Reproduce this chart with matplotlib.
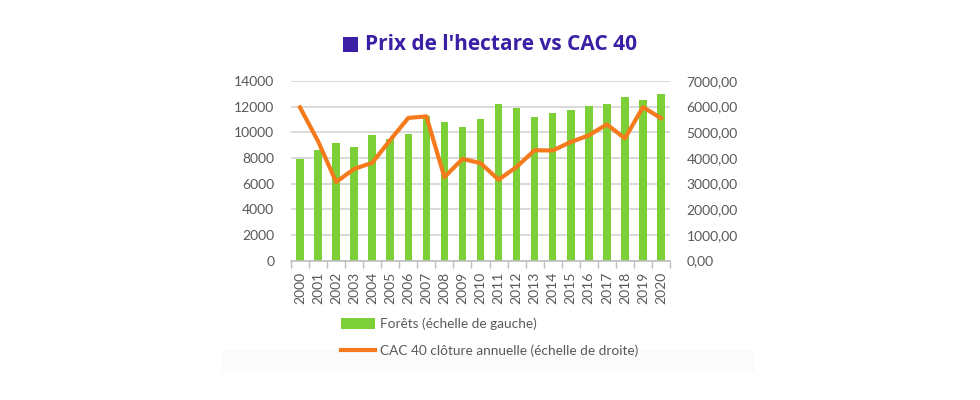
import matplotlib
matplotlib.use("Agg")
import matplotlib.pyplot as plt
from matplotlib.patches import Rectangle, Patch
from matplotlib.lines import Line2D
from matplotlib.ticker import FuncFormatter, FixedLocator
import numpy as np

years = [str(y) for y in range(2000, 2021)]
forets = [7950, 8650, 9200, 8850, 9800, 9500, 9900, 11250, 10780, 10440, 11000,
          12200, 11930, 11200, 11520, 11750, 12060, 12220, 12740, 12500, 13020]
cac40 = [5970, 4650, 3060, 3570, 3810, 4700, 5560, 5620, 3250, 3960, 3800,
         3150, 3650, 4300, 4290, 4620, 4880, 5310, 4760, 5980, 5550]

title = "Prix de l'hectare vs CAC 40"
label_bars = "Forêts (échelle de gauche)"
label_line = "CAC 40 clôture annuelle (échelle de droite)"

GREEN = "#7dcf37"
ORANGE = "#f47a1c"
PURPLE = "#3b1fa5"
TXT = "#595959"
GRID = "#d9d9d9"

plt.rcParams['font.family'] = ['Lato', 'DejaVu Sans']

fig = plt.figure(figsize=(9.8, 4.0), dpi=100)
fig.patch.set_facecolor("white")

# faint band at bottom of the original screenshot
fig.patches.append(Rectangle((222/980, 1-372/400), (755-222)/980, 22/400,
                             transform=fig.transFigure, facecolor="#fbfbfb",
                             edgecolor="none", zorder=0))

ax = fig.add_axes([291/980, 1-260.5/400, 379/980, (260.5-81)/400])
x = np.arange(len(years))
ax.bar(x, forets, width=0.42, color=GREEN, zorder=2)
ax.set_xlim(-0.5, len(years)-0.5)
ax.set_ylim(0, 14000)
ax.set_yticks(np.arange(0, 14001, 2000))
ax.yaxis.grid(True, color=GRID, linewidth=1.4, zorder=0)
ax.set_axisbelow(True)
for s in ["top", "right", "left"]:
    ax.spines[s].set_visible(False)
ax.spines["bottom"].set_color("#bfbfbf")
ax.spines["bottom"].set_linewidth(1.2)
ax.set_xticks(x)
ax.set_xticklabels(years, rotation=90, fontsize=10, color=TXT)
ax.tick_params(axis="x", which="major", length=0, pad=8)
ax.xaxis.set_minor_locator(FixedLocator(np.arange(-0.5, len(years), 1.0)))
ax.tick_params(axis="x", which="minor", length=5, color="#bfbfbf", width=1)
ax.tick_params(axis="y", length=0, labelsize=10, labelcolor=TXT, pad=12)

ax2 = ax.twinx()
ax2.plot(x, cac40, color=ORANGE, linewidth=3.0, zorder=3, solid_joinstyle="round")
ax2.set_ylim(0, 7000)
ax2.set_yticks(np.arange(0, 7001, 1000))
ax2.yaxis.set_major_formatter(FuncFormatter(lambda v, p: f"{v:.2f}".replace(".", ",")))
for s in ["top", "right", "left", "bottom"]:
    ax2.spines[s].set_visible(False)
ax2.tick_params(axis="y", length=0, labelsize=10, labelcolor=TXT, pad=12)

# title
fig.patches.append(Rectangle((343/980, 1-52/400), 15/980, 15/400,
                             transform=fig.transFigure, facecolor=PURPLE,
                             edgecolor="none"))
fig.text(365/980, 1-44/400, title, fontsize=15, fontweight="bold",
         color=PURPLE, family=["Open Sans", "DejaVu Sans"], va="center", ha="left")

handles = [Patch(facecolor=GREEN, edgecolor="none"),
           Line2D([0], [0], color=ORANGE, linewidth=3.0)]
fig.legend(handles, [label_bars, label_line], loc="upper left",
           bbox_to_anchor=(336/980, 1-312/400), frameon=False, fontsize=9.8,
           labelcolor=TXT, handlelength=2.5, handleheight=0.9, handletextpad=0.3,
           labelspacing=1.05, borderaxespad=0)

fig.savefig("out.png", dpi=100, facecolor="white")
